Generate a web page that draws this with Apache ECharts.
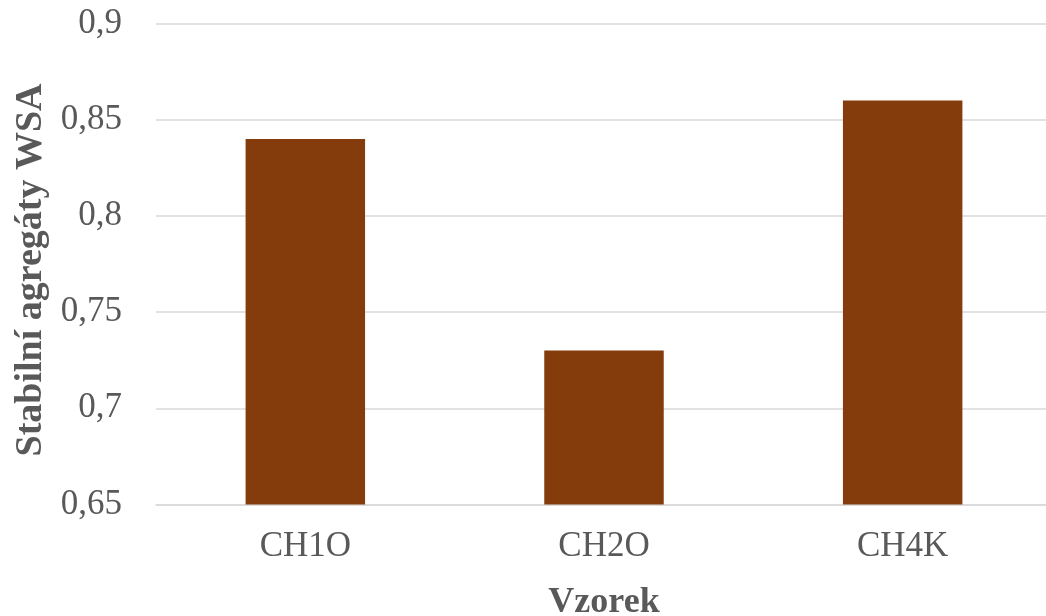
<!DOCTYPE html>
<html>
<head>
<meta charset="utf-8">
<script src="https://cdn.jsdelivr.net/npm/echarts@6/dist/echarts.min.js"></script>
<style>
  html, body { margin: 0; padding: 0; background: #fff; }
  #chart { width: 1046px; height: 616px; }
</style>
</head>
<body>
<div id="chart"></div>
<script>
// Stable water aggregates per sample
const categories = ['CH1O', 'CH2O', 'CH4K'];
const wsaValues = [0.84, 0.73, 0.86];
const yTicks = { min: 0.65, max: 0.9, step: 0.05 };

const textColor = '#595959';
const fontFamily = '"Liberation Serif", "Times New Roman", serif';

const chart = echarts.init(document.getElementById('chart'), null, { renderer: 'canvas' });
chart.setOption({
  animation: false,
  backgroundColor: '#ffffff',
  grid: { left: 156, top: 23.5, width: 896, height: 481, outerBoundsMode: 'none', containLabel: false },
  xAxis: {
    type: 'category',
    data: categories,
    name: 'Vzorek',
    nameLocation: 'middle',
    nameGap: 80,
    nameTextStyle: { color: textColor, fontFamily, fontSize: 36, fontWeight: 'bold' },
    axisLine: { show: true, lineStyle: { color: '#d9d9d9', width: 1.5 } },
    axisTick: { show: false },
    axisLabel: { color: textColor, fontFamily, fontSize: 35, margin: 25 }
  },
  yAxis: {
    type: 'value',
    min: yTicks.min,
    max: yTicks.max,
    interval: yTicks.step,
    name: 'Stabilní agregáty WSA',
    nameLocation: 'middle',
    nameGap: 104,
    nameTextStyle: { color: textColor, fontFamily, fontSize: 38, fontWeight: 'bold', padding: [0, 12, 0, 0] },
    axisLine: { show: false },
    axisTick: { show: false },
    splitLine: { lineStyle: { color: '#d9d9d9', width: 1.5 } },
    axisLabel: {
      color: textColor, fontFamily, fontSize: 35, margin: 34,
      formatter: v => String(Math.round(v * 100) / 100).replace('.', ',')
    }
  },
  series: [{
    type: 'bar',
    data: wsaValues,
    barWidth: '40%',
    itemStyle: { color: '#843c0c' }
  }]
});
</script>
</body>
</html>
